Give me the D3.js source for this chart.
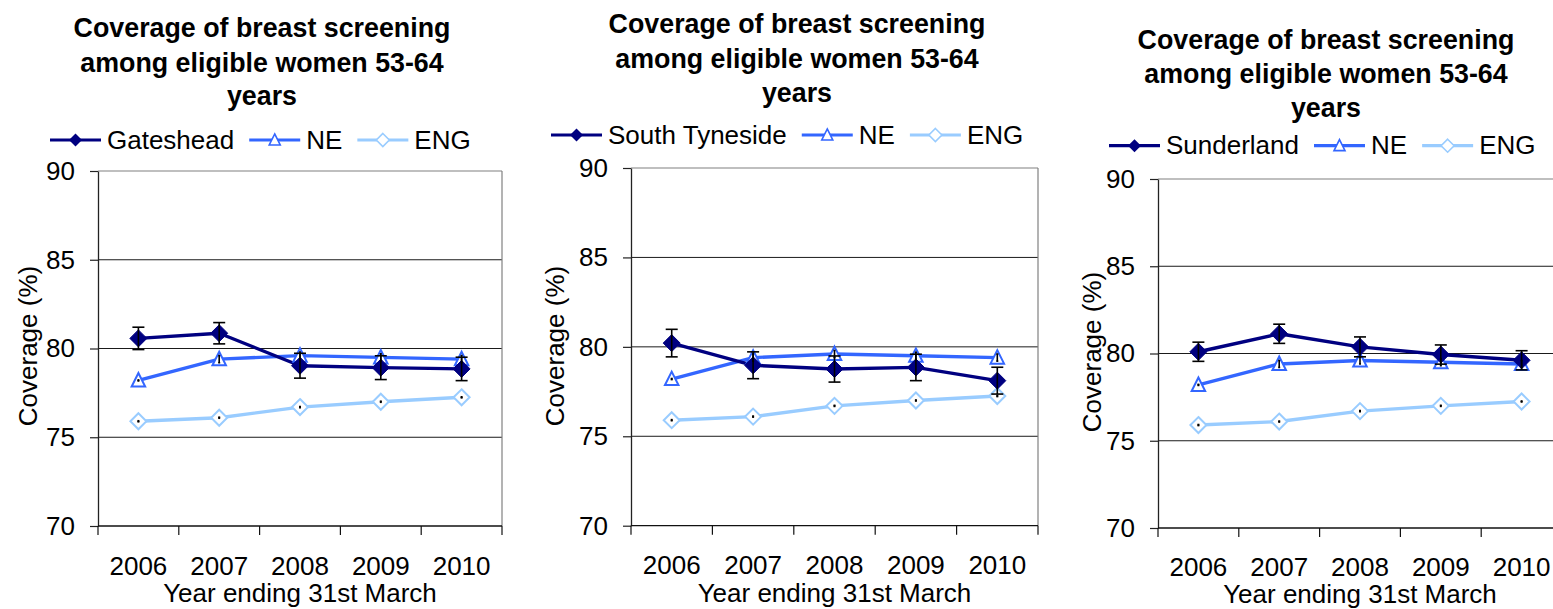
<!DOCTYPE html>
<html><head><meta charset="utf-8">
<script src="https://cdn.jsdelivr.net/npm/d3@7"></script>
<style>
html,body{margin:0;padding:0;background:#fff;}
svg{display:block;}
text{font-family:"Liberation Sans",Arial,sans-serif;fill:#000;}
</style></head>
<body>
<svg id="chart" width="1553" height="609"></svg>
<script>
// ---------------- data ----------------
const years = ["2006", "2007", "2008", "2009", "2010"];
const yTicks = [70, 75, 80, 85, 90];
const titleLines = ["Coverage of breast screening", "among eligible women 53-64", "years"];
const xAxisTitle = "Year ending 31st March";
const yAxisTitle = "Coverage (%)";
const localNames = ["Gateshead", "South Tyneside", "Sunderland"];

const gatesheadValues = [80.57, 80.86, 79.03, 78.92, 78.85];
const gatesheadErrors = [0.63, 0.60, 0.70, 0.67, 0.66];
const southTynesideValues = [80.21, 78.97, 78.76, 78.85, 78.11];
const southTynesideErrors = [0.77, 0.75, 0.73, 0.74, 0.75];
const sunderlandValues = [80.10, 81.13, 80.38, 79.94, 79.61];
const sunderlandErrors = [0.55, 0.55, 0.57, 0.55, 0.55];
const neValues = [78.2, 79.4, 79.6, 79.5, 79.4];
const neErrors = [0.03, 0.2, 0.2, 0.2, 0.2];
const engValues = [75.9, 76.1, 76.7, 77.0, 77.25];
const engErrors = [0.03, 0.03, 0.03, 0.03, 0.03];

// ---------------- layout ----------------
const localData = [
  {values: gatesheadValues, errors: gatesheadErrors},
  {values: southTynesideValues, errors: southTynesideErrors},
  {values: sunderlandValues, errors: sunderlandErrors}
];
const layouts = [
  {left: 98, right: 502, top: 171, bottom: 526, titleX: 262, titleY: [36.5, 71.5, 105], legX: 50, legY: 140, yLabX: 37, yLabY: 346, tickY: 575, xTitleY: 602},
  {left: 631, right: 1038, top: 168, bottom: 525.7, titleX: 797, titleY: [33, 68, 101.5], legX: 551, legY: 135, yLabX: 564, yLabY: 346, tickY: 574, xTitleY: 602},
  {left: 1158, right: 1562, top: 179, bottom: 528, titleX: 1326, titleY: [49.3, 83.3, 117], legX: 1109, legY: 145.7, yLabX: 1101, yLabY: 352, tickY: 576, xTitleY: 603}
];
const NAVY = "#000080", NEBLUE = "#3366FF", ENGBLUE = "#99CCFF";
const FS = 26;
const TFS = 26.8;

const svg = d3.select("#chart");

function diamond(r){ return `M0,${-r}L${r},0L0,${r}L${-r},0Z`; }
function triangle(w, h){ return `M0,${-h*0.55}L${w/2},${h*0.45}L${-w/2},${h*0.45}Z`; }

layouts.forEach((L, i) => {
  const g = svg.append("g");
  const x = d3.scaleBand().domain(years).range([L.left, L.right]).padding(0);
  const cx = d => x(d) + x.bandwidth() / 2;
  const y = d3.scaleLinear().domain([70, 90]).range([L.bottom, L.top]);

  // title
  g.append("text").attr("text-anchor", "middle").attr("font-weight", "bold").attr("font-size", TFS)
    .selectAll("tspan").data(titleLines).join("tspan")
    .attr("x", L.titleX).attr("y", (d, k) => L.titleY[k]).text(d => d);

  // gridlines
  g.selectAll(".grid").data(yTicks.filter(t => t > 70 && t < 90)).join("line")
    .attr("x1", L.left).attr("x2", L.right).attr("y1", d => y(d)).attr("y2", d => y(d))
    .attr("stroke", "#1a1a1a").attr("stroke-width", 1);
  // plot border top/right
  g.append("line").attr("x1", L.left).attr("x2", L.right).attr("y1", y(90)).attr("y2", y(90))
    .attr("stroke", "#808080").attr("stroke-width", 1.2);
  g.append("line").attr("x1", L.right).attr("x2", L.right).attr("y1", y(90)).attr("y2", y(70))
    .attr("stroke", "#808080").attr("stroke-width", 1.2);

  // y axis
  const ya = g.append("g").attr("transform", `translate(${L.left},0)`)
    .call(d3.axisLeft(y).tickValues(yTicks).tickSize(8).tickPadding(15).tickSizeOuter(0));
  ya.select(".domain").attr("stroke", "#222").attr("stroke-width", 1.3);
  ya.selectAll(".tick line").attr("stroke", "#222").attr("stroke-width", 1.2);
  ya.selectAll(".tick text").attr("font-size", FS).attr("font-family", "Liberation Sans, Arial, sans-serif").attr("fill", "#000");

  // x axis
  g.append("line").attr("x1", L.left).attr("x2", L.right).attr("y1", y(70)).attr("y2", y(70))
    .attr("stroke", "#111").attr("stroke-width", 1.3);
  const edges = years.map(d => x(d)).concat([L.right]);
  g.selectAll(".xt").data(edges).join("line")
    .attr("x1", d => d).attr("x2", d => d).attr("y1", y(70)).attr("y2", y(70) + 9)
    .attr("stroke", "#111").attr("stroke-width", 1.2);
  g.selectAll(".xl").data(years).join("text")
    .attr("x", d => cx(d)).attr("y", L.tickY).attr("text-anchor", "middle").attr("font-size", FS).text(d => d);

  // axis titles
  g.append("text").attr("x", (L.left + L.right) / 2).attr("y", L.xTitleY).attr("text-anchor", "middle")
    .attr("font-size", FS).text(xAxisTitle);
  g.append("text").attr("transform", `translate(${L.yLabX},${L.yLabY}) rotate(-90)`).attr("text-anchor", "middle")
    .attr("font-size", FS).text(yAxisTitle);

  const line = d3.line().x((d, k) => cx(years[k])).y(d => y(d));

  // series definitions
  const series = [
    {values: engValues, errors: engErrors, color: ENGBLUE, kind: "hdiamond"},
    {values: neValues, errors: neErrors, color: NEBLUE, kind: "triangle"},
    {values: localData[i].values, errors: localData[i].errors, color: NAVY, kind: "diamond"}
  ];

  series.forEach(s => {
    g.append("path").attr("d", line(s.values)).attr("fill", "none").attr("stroke", s.color).attr("stroke-width", 3.4)
      .attr("stroke-linejoin", "round");
  });
  series.forEach(s => {
    const pts = s.values.map((v, k) => ({x: cx(years[k]), y: y(v), v, e: s.errors[k]}));
    const m = g.selectAll(null).data(pts).join("path")
      .attr("transform", d => `translate(${d.x},${d.y})`);
    if (s.kind === "diamond") m.attr("d", diamond(8.5)).attr("fill", NAVY).attr("stroke", NAVY).attr("stroke-width", 1);
    else if (s.kind === "triangle") m.attr("d", triangle(13.5, 13.5)).attr("fill", "#fff").attr("stroke", NEBLUE).attr("stroke-width", 2);
    else m.attr("d", diamond(8)).attr("fill", "#fff").attr("stroke", ENGBLUE).attr("stroke-width", 2);
  });
  // error bars (drawn on top)
  series.forEach(s => {
    const capW = s.kind === "diamond" ? 6 : 1;
    s.values.forEach((v, k) => {
      const xx = cx(years[k]);
      const y1 = y(v + s.errors[k]), y2 = y(v - s.errors[k]);
      g.append("line").attr("x1", xx).attr("x2", xx).attr("y1", y1).attr("y2", y2).attr("stroke", "#000").attr("stroke-width", 1.6);
      [y1, y2].forEach(yy => g.append("line").attr("x1", xx - capW).attr("x2", xx + capW).attr("y1", yy).attr("y2", yy)
        .attr("stroke", "#000").attr("stroke-width", 1.6));
    });
  });

  // legend
  const legItems = [
    {name: localNames[i], color: NAVY, kind: "diamond"},
    {name: "NE", color: NEBLUE, kind: "triangle"},
    {name: "ENG", color: ENGBLUE, kind: "hdiamond"}
  ];
  let lx = L.legX;
  legItems.forEach(it => {
    const lg = g.append("g");
    lg.append("line").attr("x1", lx).attr("x2", lx + 51).attr("y1", L.legY).attr("y2", L.legY)
      .attr("stroke", it.color).attr("stroke-width", 3.2);
    const mk = lg.append("path").attr("transform", `translate(${lx + 25.5},${L.legY})`);
    if (it.kind === "diamond") mk.attr("d", diamond(6.5)).attr("fill", NAVY);
    else if (it.kind === "triangle") mk.attr("d", triangle(11, 11)).attr("fill", "#fff").attr("stroke", NEBLUE).attr("stroke-width", 1.6);
    else mk.attr("d", diamond(6.5)).attr("fill", "#fff").attr("stroke", ENGBLUE).attr("stroke-width", 1.6);
    const t = lg.append("text").attr("x", lx + 57).attr("y", L.legY + 8.5).attr("font-size", FS).text(it.name);
    lx = lx + 57 + t.node().getComputedTextLength() + 15;
  });
});
</script>
</body></html>
